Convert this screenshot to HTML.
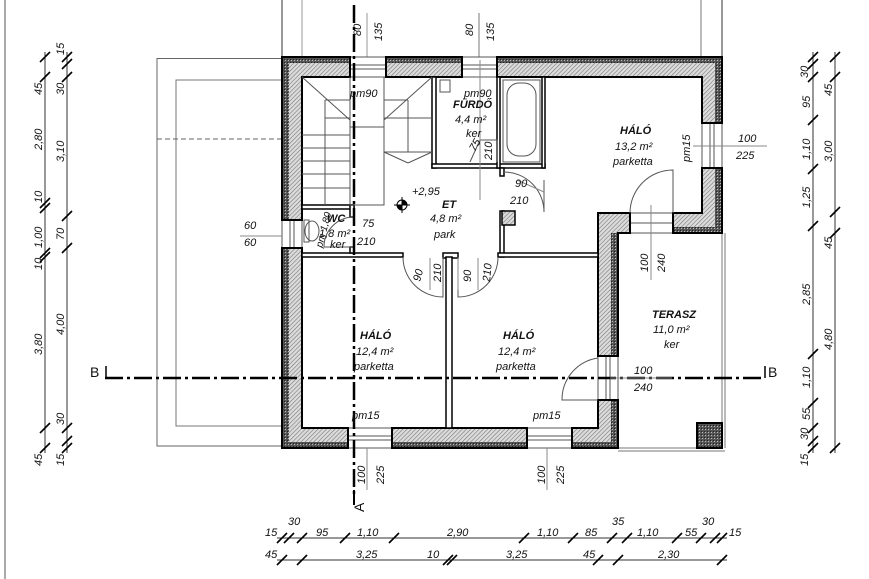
<!DOCTYPE html>
<html><head><meta charset="utf-8"><style>
html,body{margin:0;padding:0;background:#fff}
svg{display:block}
text{font-family:"Liberation Sans",sans-serif;font-style:italic;font-size:11px;fill:#111}
.b{font-weight:bold}
</style></head><body>
<svg width="869" height="579" viewBox="0 0 869 579" xmlns="http://www.w3.org/2000/svg">
<defs>
<pattern id="h" width="3" height="3" patternUnits="userSpaceOnUse" patternTransform="rotate(45)">
<rect width="3" height="3" fill="#dcdcdc"/><line x1="0" y1="0" x2="0" y2="3" stroke="#777" stroke-width="1.2"/></pattern>
<pattern id="d" width="3" height="3" patternUnits="userSpaceOnUse">
<rect width="3" height="3" fill="#555"/><rect width="1" height="1" fill="#bbb"/><rect x="2" y="2" width="1" height="1" fill="#222"/></pattern>
</defs>
<line x1="5" y1="0" x2="5" y2="579" stroke="#555"/>
<rect x="157" y="58.5" width="125" height="387.5" fill="none" stroke="#666"/>
<polyline points="282,80 176,80 176,426 282,426" fill="none" stroke="#777"/>
<line x1="157" y1="139" x2="282" y2="139" stroke="#666" stroke-dasharray="5,3"/>
<g stroke="#777"><line x1="282" y1="0" x2="282" y2="57" stroke="#333"/><line x1="302" y1="0" x2="302" y2="57" stroke="#999"/><line x1="367" y1="13" x2="367" y2="57" stroke="#999"/><line x1="479" y1="13" x2="479" y2="57"/><line x1="701" y1="0" x2="701" y2="57"/><line x1="722" y1="0" x2="722" y2="57" stroke="#333"/></g>
<g fill="#fff" stroke="#555" stroke-width="1">
<rect x="350" y="57" width="36" height="20"/><line x1="350" y1="65" x2="386" y2="65"/><line x1="350" y1="69" x2="386" y2="69"/>
<rect x="462" y="57" width="35" height="20"/><line x1="462" y1="65" x2="497" y2="65"/><line x1="462" y1="69" x2="497" y2="69"/>
<rect x="702" y="123" width="20" height="45"/><line x1="710" y1="123" x2="710" y2="168"/><line x1="714" y1="123" x2="714" y2="168"/>
<rect x="282" y="220" width="20" height="28"/><line x1="290" y1="220" x2="290" y2="248"/><line x1="294" y1="220" x2="294" y2="248"/>
<rect x="348" y="428" width="44" height="20"/><line x1="348" y1="436" x2="392" y2="436"/><line x1="348" y1="440" x2="392" y2="440"/>
<rect x="527" y="428" width="45" height="20"/><line x1="527" y1="436" x2="572" y2="436"/><line x1="527" y1="440" x2="572" y2="440"/>
<rect x="598" y="356" width="20" height="44"/><line x1="606" y1="356" x2="606" y2="400"/><line x1="610" y1="356" x2="610" y2="400"/>
<rect x="630" y="213" width="43" height="20"/><line x1="630" y1="223" x2="673" y2="223"/>
</g>
<g stroke="#777" fill="none"><line x1="722" y1="233" x2="722" y2="448"/><line x1="725" y1="233" x2="725" y2="448"/><line x1="618" y1="448" x2="722" y2="448"/><line x1="618" y1="451" x2="725" y2="451"/></g>
<g fill="url(#h)" stroke="none">
<polygon points="282,57 350,57 350,77 302,77 302,220 282,220"/>
<rect x="386" y="57" width="76" height="20"/>
<polygon points="497,57 722,57 722,123 702,123 702,77 497,77"/>
<polygon points="702,168 722,168 722,233 673,233 673,213 702,213"/>
<polygon points="282,248 302,248 302,428 348,428 348,448 282,448"/>
<rect x="392" y="428" width="135" height="20"/>
<polygon points="572,428 598,428 598,400 618,400 618,448 572,448"/>
<polygon points="598,213 630,213 630,233 618,233 618,356 598,356"/>
</g>
<g fill="url(#d)">
<rect x="282" y="57" width="7" height="163"/><rect x="282" y="57" width="68" height="6"/>
<rect x="386" y="57" width="76" height="6"/>
<rect x="497" y="57" width="225" height="6"/><rect x="715" y="57" width="7" height="66"/>
<rect x="715" y="168" width="7" height="65"/><rect x="673" y="227" width="49" height="6"/>
<rect x="282" y="248" width="7" height="200"/><rect x="282" y="442" width="66" height="6"/>
<rect x="392" y="442" width="135" height="6"/>
<rect x="572" y="442" width="46" height="6"/><rect x="611" y="400" width="7" height="48"/>
<rect x="611" y="233" width="7" height="123"/>
<rect x="697" y="423" width="25" height="25"/>
</g>
<g fill="none" stroke="#000" stroke-width="2">
<polygon points="282,57 350,57 350,77 302,77 302,220 282,220"/>
<rect x="386" y="57" width="76" height="20"/>
<polygon points="497,57 722,57 722,123 702,123 702,77 497,77"/>
<polygon points="702,168 722,168 722,233 673,233 673,213 702,213"/>
<polygon points="282,248 302,248 302,428 348,428 348,448 282,448"/>
<rect x="392" y="428" width="135" height="20"/>
<polygon points="572,428 598,428 598,400 618,400 618,448 572,448"/>
<polygon points="598,213 630,213 630,233 618,233 618,356 598,356"/>
<rect x="697" y="423" width="25" height="25"/>
</g>
<g fill="#fff" stroke="#000" stroke-width="1.5">
<rect x="432" y="77" width="4" height="91"/>
<rect x="432" y="164" width="113" height="4"/>
<rect x="497" y="77" width="3" height="91"/>
<rect x="542" y="77" width="3" height="91"/>
<rect x="500" y="168" width="4" height="8"/>
<rect x="500" y="211" width="4" height="46"/>
<rect x="502" y="211" width="13" height="14" fill="url(#h)"/>
<rect x="302" y="253" width="101" height="4"/>
<rect x="443" y="253" width="15" height="5"/>
<rect x="498" y="253" width="100" height="4"/>
<rect x="446" y="257" width="6" height="171"/>
<rect x="302" y="205" width="52" height="4"/>
<rect x="350" y="205" width="4" height="12"/>
<rect x="350" y="247" width="4" height="6"/>
</g>
<g stroke="#555" fill="none" stroke-width="1">
<line x1="350" y1="77" x2="350" y2="205"/><rect x="350" y="127" width="34" height="78"/>
<line x1="384" y1="77" x2="384" y2="165"/>
<line x1="302" y1="77" x2="350" y2="120"/><line x1="432" y1="77" x2="384" y2="120"/>
<line x1="325" y1="100" x2="325" y2="205"/>
<line x1="384" y1="152" x2="408" y2="163"/><line x1="408" y1="163" x2="432" y2="152"/>
<line x1="302" y1="135" x2="350" y2="135"/><line x1="302" y1="148" x2="350" y2="148"/><line x1="302" y1="161" x2="350" y2="161"/><line x1="302" y1="174" x2="350" y2="174"/><line x1="302" y1="188" x2="350" y2="188"/>
<line x1="325" y1="100" x2="350" y2="100"/><line x1="325" y1="118" x2="350" y2="118"/>
<line x1="384" y1="100" x2="408" y2="100"/><line x1="384" y1="118" x2="432" y2="118"/><line x1="384" y1="152" x2="432" y2="152"/>
<line x1="408" y1="100" x2="408" y2="152"/>
<rect x="503" y="80" width="37" height="82"/><rect x="507" y="83" width="29" height="73" rx="12"/>
<rect x="440" y="80" width="10" height="12"/>
<ellipse cx="312" cy="231" rx="7" ry="10"/><rect x="304" y="220" width="5" height="22"/>
<path d="M354,217 A30,30 0 0 0 324,247"/><line x1="354" y1="247" x2="324" y2="247"/>
<path d="M673,213 L673,170 A43,43 0 0 0 630,213"/>
<path d="M598,400 L562,400 A42,42 0 0 1 598,358"/>
<path d="M403,257 A40,40 0 0 0 443,297 L443,257"/>
<path d="M498,257 A40,40 0 0 1 458,297 L458,257"/>
<path d="M504,172 A40,40 0 0 1 544,212 L544,180"/>
<path d="M470,162 L480,140 L497,140 L497,162"/>
</g>
<circle cx="402" cy="205" r="5" fill="#fff" stroke="#000"/><path d="M402,200 A5,5 0 0 1 407,205 L402,205Z M402,210 A5,5 0 0 1 397,205 L402,205Z" fill="#000"/>
<line x1="394" y1="205" x2="410" y2="205" stroke="#000"/><line x1="402" y1="197" x2="402" y2="213" stroke="#000"/>
<line x1="354" y1="5" x2="354" y2="497" stroke="#000" stroke-width="2.5" stroke-dasharray="18,4,3,4"/>
<line x1="354" y1="490" x2="354" y2="505" stroke="#000" stroke-width="2"/>
<line x1="105" y1="378" x2="765" y2="378" stroke="#000" stroke-width="2.5" stroke-dasharray="18,4,3,4"/>
<line x1="106" y1="366" x2="106" y2="378" stroke="#000" stroke-width="1.5"/><line x1="765" y1="366" x2="765" y2="378" stroke="#000" stroke-width="1.5"/>
<text x="90" y="377" style="font-style:normal;font-size:14px">B</text>
<text x="768" y="377" style="font-style:normal;font-size:14px">B</text>
<text transform="translate(364,512) rotate(-90)" style="font-style:normal;font-size:14px">A</text>
<g stroke="#888"><line x1="240" y1="236" x2="282" y2="236"/><line x1="693" y1="146" x2="767" y2="146"/><line x1="367" y1="448" x2="367" y2="490"/><line x1="547" y1="448" x2="547" y2="490"/><line x1="651" y1="205" x2="651" y2="280"/><line x1="610" y1="378" x2="672" y2="378"/><line x1="480" y1="60" x2="480" y2="200"/><line x1="458" y1="258" x2="458" y2="290"/><line x1="430" y1="258" x2="430" y2="290"/><line x1="478" y1="258" x2="478" y2="290"/><line x1="517" y1="180" x2="544" y2="192"/></g>
<text x="350" y="97">pm90</text><text x="464" y="97">pm90</text>
<text class="b" x="453" y="108">FÜRDŐ</text><text x="455" y="123">4,4 m²</text><text x="466" y="137">ker</text>
<text transform="translate(475,152) rotate(-60)">75</text><text transform="translate(492,160) rotate(-90)">210</text>
<text class="b" x="620" y="134">HÁLÓ</text><text x="615" y="150">13,2 m²</text><text x="613" y="165">parketta</text>
<text transform="translate(690,162) rotate(-90)">pm15</text><text x="738" y="142">100</text><text x="736" y="159">225</text>
<text x="412" y="195">+2,95</text><text class="b" x="442" y="208">ET</text><text x="430" y="222">4,8 m²</text><text x="434" y="238">park</text>
<text x="515" y="187">90</text><text x="510" y="204">210</text>
<text class="b" x="327" y="222">WC</text><text x="319" y="237">1,8 m²</text><text x="330" y="248">ker</text>
<text x="362" y="227">75</text><text x="357" y="245">210</text>
<text transform="translate(322,248) rotate(-75)" style="font-size:10px">pm 1,80</text>
<text x="244" y="229">60</text><text x="244" y="246">60</text>
<text transform="translate(420,282) rotate(-75)">90</text><text transform="translate(441,282) rotate(-90)">210</text>
<text transform="translate(471,282) rotate(-90)">90</text><text transform="translate(490,282) rotate(-85)">210</text>
<text transform="translate(648,272) rotate(-90)">100</text><text transform="translate(665,272) rotate(-90)">240</text>
<text class="b" x="652" y="318">TERASZ</text><text x="653" y="333">11,0 m²</text><text x="664" y="348">ker</text>
<text x="634" y="374">100</text><text x="634" y="391">240</text>
<text class="b" x="360" y="339">HÁLÓ</text><text x="356" y="355">12,4 m²</text><text x="354" y="370">parketta</text>
<text class="b" x="503" y="339">HÁLÓ</text><text x="498" y="355">12,4 m²</text><text x="496" y="370">parketta</text>
<text x="352" y="419">pm15</text><text x="533" y="419">pm15</text>
<text transform="translate(365,484) rotate(-90)">100</text><text transform="translate(384,484) rotate(-90)">225</text>
<text transform="translate(545,484) rotate(-90)">100</text><text transform="translate(564,484) rotate(-90)">225</text>
<text transform="translate(361,36) rotate(-90)">80</text><text transform="translate(382,41) rotate(-90)">135</text>
<text transform="translate(473,36) rotate(-90)">80</text><text transform="translate(494,41) rotate(-90)">135</text>
<g stroke="#333" stroke-width="1">
<line x1="45" y1="52" x2="45" y2="453"/><line x1="67" y1="52" x2="67" y2="453"/>
<line x1="813" y1="52" x2="813" y2="453"/><line x1="835" y1="52" x2="835" y2="453"/>
<line x1="277" y1="538" x2="727" y2="538"/><line x1="277" y1="560" x2="727" y2="560"/>
</g>
<g stroke="#000" stroke-width="1.6">
<path d="M40,62l10,-10 M40,82l10,-10 M40,208l10,-10 M40,213l10,-10 M40,258l10,-10 M40,262l10,-10 M40,433l10,-10 M40,453l10,-10"/>
<path d="M62,62l10,-10 M62,69l10,-10 M62,82l10,-10 M62,221l10,-10 M62,253l10,-10 M62,433l10,-10 M62,446l10,-10 M62,453l10,-10"/>
<path d="M808,62l10,-10 M808,69l10,-10 M808,82l10,-10 M808,125l10,-10 M808,174l10,-10 M808,231l10,-10 M808,359l10,-10 M808,408l10,-10 M808,433l10,-10 M808,446l10,-10 M808,453l10,-10"/>
<path d="M830,62l10,-10 M830,82l10,-10 M830,217l10,-10 M830,238l10,-10 M830,453l10,-10"/>
<path d="M277,543l10,-10 M284,543l10,-10 M297,543l10,-10 M340,543l10,-10 M389,543l10,-10 M519,543l10,-10 M568,543l10,-10 M607,543l10,-10 M622,543l10,-10 M672,543l10,-10 M696,543l10,-10 M710,543l10,-10 M717,543l10,-10"/>
<path d="M277,565l10,-10 M297,565l10,-10 M443,565l10,-10 M447,565l10,-10 M593,565l10,-10 M613,565l10,-10 M717,565l10,-10"/>
</g>
<g>
<text transform="translate(42,95) rotate(-90)">45</text><text transform="translate(42,150) rotate(-90)">2,80</text>
<text transform="translate(42,203) rotate(-90)">10</text><text transform="translate(42,248) rotate(-90)">1,00</text>
<text transform="translate(42,270) rotate(-90)">10</text><text transform="translate(42,355) rotate(-90)">3,80</text>
<text transform="translate(42,466) rotate(-90)">45</text>
<text transform="translate(64,55) rotate(-90)">15</text><text transform="translate(64,95) rotate(-90)">30</text>
<text transform="translate(64,162) rotate(-90)">3,10</text><text transform="translate(64,240) rotate(-90)">70</text>
<text transform="translate(64,335) rotate(-90)">4,00</text><text transform="translate(64,425) rotate(-90)">30</text>
<text transform="translate(64,466) rotate(-90)">15</text>
<text transform="translate(808,78) rotate(-90)">30</text><text transform="translate(810,108) rotate(-90)">95</text>
<text transform="translate(810,160) rotate(-90)">1,10</text><text transform="translate(810,208) rotate(-90)">1,25</text>
<text transform="translate(810,305) rotate(-90)">2,85</text><text transform="translate(810,388) rotate(-90)">1,10</text>
<text transform="translate(810,420) rotate(-90)">55</text><text transform="translate(808,440) rotate(-90)">30</text>
<text transform="translate(808,466) rotate(-90)">15</text>
<text transform="translate(832,96) rotate(-90)">45</text><text transform="translate(832,162) rotate(-90)">3,00</text>
<text transform="translate(832,249) rotate(-90)">45</text><text transform="translate(832,350) rotate(-90)">4,80</text>
<text x="265" y="536">15</text><text x="288" y="525">30</text><text x="316" y="536">95</text><text x="357" y="536">1,10</text>
<text x="447" y="536">2,90</text><text x="537" y="536">1,10</text><text x="585" y="536">85</text>
<text x="612" y="525">35</text><text x="637" y="536">1,10</text><text x="685" y="536">55</text>
<text x="702" y="525">30</text><text x="729" y="536">15</text>
<text x="265" y="558">45</text><text x="356" y="558">3,25</text><text x="427" y="558">10</text>
<text x="506" y="558">3,25</text><text x="583" y="558">45</text><text x="658" y="558">2,30</text>
</g>
</svg>
</body></html>
